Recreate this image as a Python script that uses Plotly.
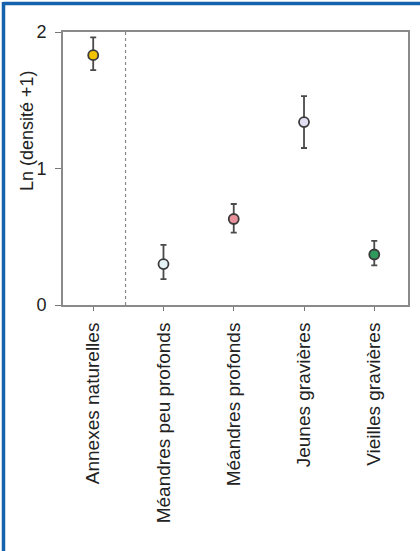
import plotly.graph_objects as go

categories = ["Annexes naturelles", "Méandres peu profonds", "Méandres profonds",
              "Jeunes gravières", "Vieilles gravières"]
means = [1.83, 0.30, 0.63, 1.34, 0.37]
err_up = [0.13, 0.14, 0.11, 0.19, 0.10]
err_down = [0.11, 0.11, 0.10, 0.19, 0.08]
colors = ["#f2c200", "#e4f4f6", "#e8919a", "#e2def4", "#2f9a5e"]
ytick_vals = [0, 1, 2]
separator_x = 0.46

xpos = list(range(len(categories)))

W, H = 420, 551
L, R, T, B = 63, 12, 32, 246

fig = go.Figure()
fig.add_trace(go.Scatter(
    x=xpos, y=means, mode="markers",
    marker=dict(size=10, color=colors, line=dict(color="#3a3a3a", width=1.8)),
    error_y=dict(type="data", symmetric=False, array=err_up, arrayminus=err_down,
                 color="#4a4a4a", thickness=1.8, width=3),
    showlegend=False, hoverinfo="skip",
))

fig.add_shape(type="line", xref="x", yref="paper", x0=separator_x, x1=separator_x,
              y0=0, y1=1, line=dict(color="#888888", width=1.2, dash="dot"))

# blue frame (top and left edges)
pw = W - L - R
ph = H - T - B
def px_x(p):
    return (p - L) / pw
def px_y(p):
    return 1 - (p - T) / ph
fig.add_shape(type="line", xref="paper", yref="paper",
              x0=px_x(3.5), x1=px_x(W + 5), y0=px_y(3.5), y1=px_y(3.5),
              line=dict(color="#1563ad", width=3.5))
fig.add_shape(type="line", xref="paper", yref="paper",
              x0=px_x(3.5), x1=px_x(3.5), y0=px_y(2), y1=px_y(H + 5),
              line=dict(color="#1563ad", width=3.5))

fig.add_annotation(text="Ln (densité +1)", xref="paper", yref="paper",
                   x=px_x(27), y=px_y(131), xanchor="center", yanchor="middle",
                   textangle=-90, showarrow=False,
                   font=dict(family="Liberation Sans, Arial", size=18, color="#222222"))

fig.update_xaxes(
    range=[-0.43, 4.48], tickmode="array", tickvals=xpos, ticktext=categories,
    tickangle=-90, ticks="outside", ticklen=4, tickcolor="#777777",
    showline=True, linecolor="#8a8a8a", linewidth=2, mirror=True,
    showgrid=False, zeroline=False, ticklabelstandoff=4,
    tickfont=dict(family="Liberation Sans, Arial", size=19, color="#222222"),
)
fig.update_yaxes(
    range=[0, 2], tickmode="array", tickvals=ytick_vals,
    ticks="outside", ticklen=6, tickcolor="#777777",
    showline=True, linecolor="#8a8a8a", linewidth=2, mirror=True,
    showgrid=False, zeroline=False, ticklabelstandoff=5,
    tickfont=dict(family="Liberation Sans, Arial", size=18, color="#222222"),
)
fig.update_layout(
    width=W, height=H, margin=dict(l=L, r=R, t=T, b=B, autoexpand=False),
    paper_bgcolor="white", plot_bgcolor="white", hovermode=False,
)
fig.write_html("out.html", config={"displayModeBar": False},
               post_script="document.body.style.margin='0';")
